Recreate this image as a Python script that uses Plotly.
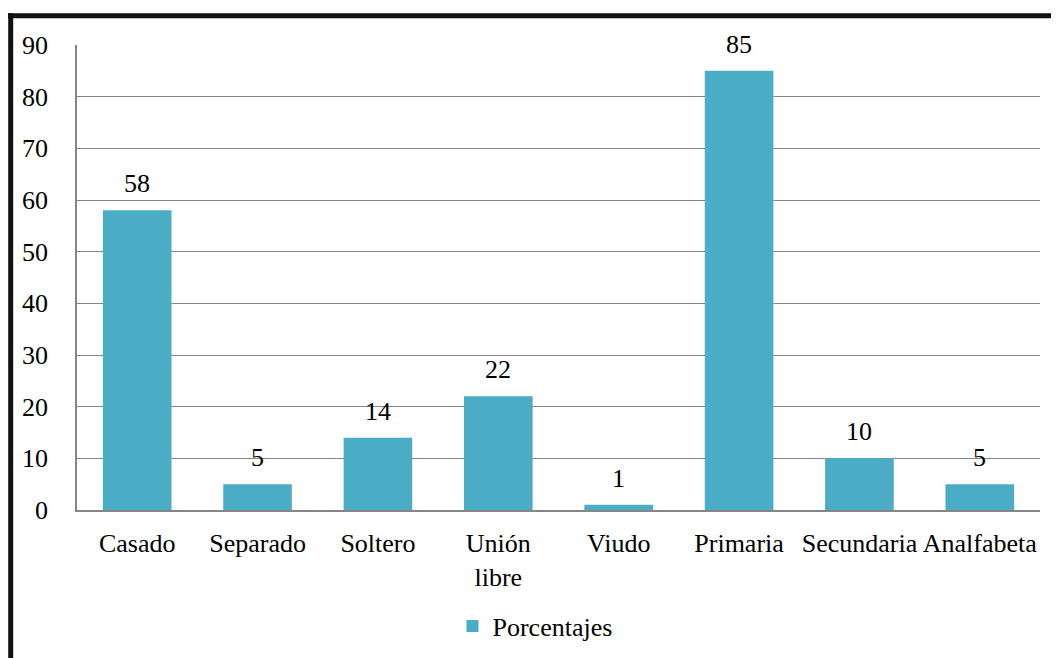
import plotly.graph_objects as go

categories = ["Casado", "Separado", "Soltero", "Unión<br>libre", "Viudo", "Primaria", "Secundaria", "Analfabeta"]
values = [58, 5, 14, 22, 1, 85, 10, 5]
series_name = "Porcentajes"
y_ticks = [0, 10, 20, 30, 40, 50, 60, 70, 80, 90]

BAR = "#4BACC6"
GRID = "#868686"
FONT = "'Liberation Serif', 'Times New Roman', serif"
FS = 26

fig = go.Figure()
fig.add_trace(go.Bar(x=categories, y=values, name=series_name, marker=dict(color=BAR, line=dict(width=0)),
                     showlegend=True))

for c, v in zip(categories, values):
    fig.add_annotation(x=c, y=v, text=str(v), showarrow=False, yanchor="bottom", yshift=10,
                       font=dict(family=FONT, size=FS, color="black"))

# page body has an 8px margin: figure occupies screen (8..1059, 8..658)
OFF = 8
W, H = 1059 - OFF, 658 - OFF
# plot area in screen coords: x 77..1040, y 45..510
L, R, T, B = 77 - OFF, W - (1040 - OFF), 45 - OFF, H - (510 - OFF)
pw, ph = W - L - R, H - T - B

def px_x(sx):
    return (sx - OFF - L) / pw

def px_y(sy):
    return (H - B - (sy - OFF)) / ph

# frame (top & left thick black border)
fig.add_shape(type="line", xref="paper", yref="paper", x0=px_x(8), x1=px_x(1070), y0=px_y(15.8), y1=px_y(15.8),
              line=dict(color="#111111", width=5))
fig.add_shape(type="line", xref="paper", yref="paper", x0=px_x(10.7), x1=px_x(10.7), y0=px_y(13.3), y1=px_y(670),
              line=dict(color="#111111", width=5))

fig.update_layout(
    width=W, height=H,
    margin=dict(l=L, r=R, t=T, b=B, autoexpand=False),
    paper_bgcolor="white", plot_bgcolor="white",
    font=dict(family=FONT, size=FS, color="black"),
    bargap=0.43,
    showlegend=True,
    legend=dict(orientation="h", x=px_x(535), xanchor="center", y=px_y(626), yanchor="middle",
                font=dict(family=FONT, size=FS, color="black"), itemwidth=30),
    xaxis=dict(showgrid=False, showline=True, linecolor=GRID, linewidth=1.5, tickangle=0,
               ticks="", ticklabelstandoff=9, tickfont=dict(family=FONT, size=FS, color="black")),
    yaxis=dict(range=[0, 90], tickvals=y_ticks, showgrid=True, gridcolor=GRID, gridwidth=1.4,
               showline=True, linecolor=GRID, linewidth=1.5, zeroline=False, ticks="",
               ticklabelstandoff=22, tickfont=dict(family=FONT, size=FS, color="black")),
)

fig.write_html("out.html")
